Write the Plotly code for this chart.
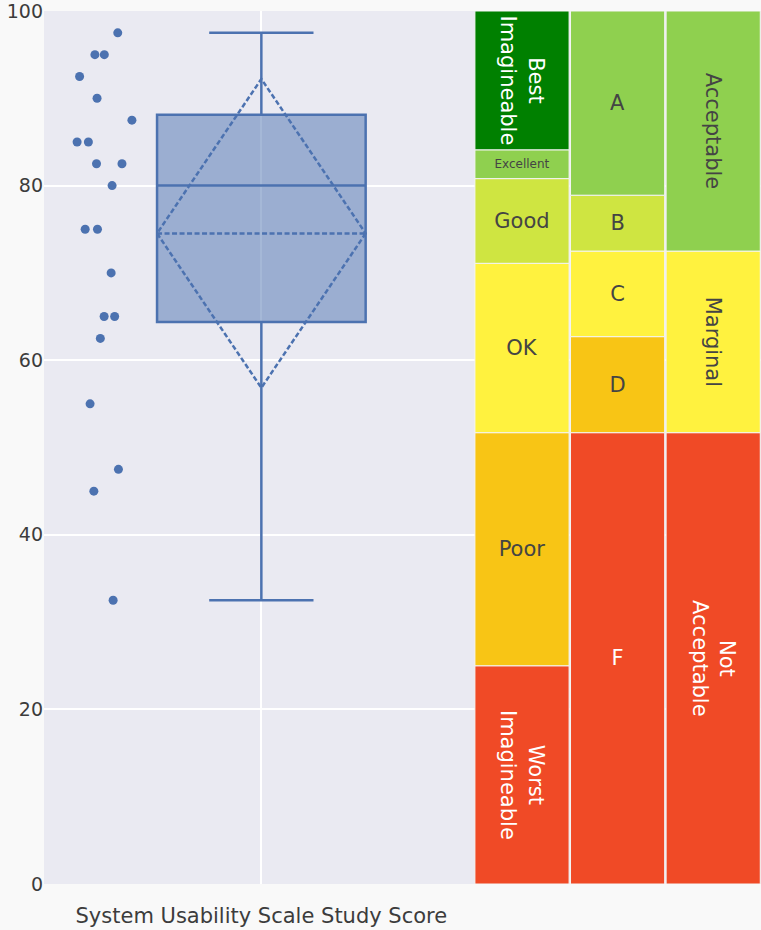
import plotly.graph_objects as go

# ---- data ----
category = "System Usability Scale Study Score"
scores = [97.5, 95, 95, 92.5, 90, 87.5, 85, 85, 82.5, 82.5, 80,
          75, 75, 70, 65, 65, 62.5, 55, 47.5, 45, 32.5]

band_columns = ["adjective", "grade", "acceptability"]
band_column = ["adjective", "adjective", "adjective", "adjective", "adjective", "adjective",
               "grade", "grade", "grade", "grade", "grade",
               "acceptability", "acceptability", "acceptability"]
band_labels = ["Worst<br>Imagineable", "Poor", "OK", "Good", "Excellent", "Best<br>Imagineable",
               "F", "D", "C", "B", "A",
               "Not<br>Acceptable", "Marginal", "Acceptable"]
band_low = [0, 25, 51.7, 71.1, 80.8, 84.1,
            0, 51.7, 62.7, 72.5, 78.9,
            0, 51.7, 72.5]
band_high = [25, 51.7, 71.1, 80.8, 84.1, 100,
             51.7, 62.7, 72.5, 78.9, 100,
             51.7, 72.5, 100]
y_ticks = [0, 20, 40, 60, 80, 100]

# ---- styles ----
RED = "#f04a26"
ORANGE = "#f8c515"
YELLOW = "#fff23f"
YGREEN = "#cfe541"
LGREEN = "#8fd04f"
DGREEN = "#008000"
band_colors = {
    "Worst<br>Imagineable": RED, "Poor": ORANGE, "OK": YELLOW, "Good": YGREEN,
    "Excellent": LGREEN, "Best<br>Imagineable": DGREEN,
    "F": RED, "D": ORANGE, "C": YELLOW, "B": YGREEN, "A": LGREEN,
    "Not<br>Acceptable": RED, "Marginal": YELLOW, "Acceptable": LGREEN,
}
rotated = {"Worst<br>Imagineable", "Best<br>Imagineable", "Not<br>Acceptable",
           "Marginal", "Acceptable"}
small = {"Excellent": 12}
dark = {RED, DGREEN}

FONT = "DejaVu Sans"
TXT = "#3c3c3c"

fig = go.Figure()

fig.add_trace(go.Box(
    x=[category] * len(scores), y=scores,
    boxpoints="all", boxmean="sd", jitter=0.3, pointpos=-1.5,
    marker=dict(color="rgb(76,114,176)", size=9),
    line=dict(color="rgb(76,114,176)", width=2.5),
    fillcolor="rgba(76,114,176,0.5)",
    showlegend=False, xaxis="x", yaxis="y",
))

for col, lab, lo, hi in zip(band_column, band_labels, band_low, band_high):
    c = band_colors[lab]
    fig.add_trace(go.Bar(
        x=[col], y=[hi - lo], base=[lo],
        text=[lab], textposition="inside", insidetextanchor="middle",
        textangle=90 if lab in rotated else 0,
        textfont=dict(family=FONT, size=small.get(lab, 21),
                      color="white" if c in dark else "#444"),
        marker=dict(color=c, line=dict(color="#f4f4f4", width=1)),
        showlegend=False, xaxis="x2", yaxis="y", hoverinfo="skip",
    ))

fig.update_layout(
    width=761, height=930,
    margin=dict(l=44, r=0, t=11, b=46, autoexpand=False),
    paper_bgcolor="#f9f9f9",
    plot_bgcolor="rgb(234,234,242)",
    font=dict(family=FONT, size=19, color=TXT),
    barmode="overlay", bargap=0.015,
    xaxis=dict(domain=[0, 0.6], type="category", showgrid=True,
               gridcolor="white", gridwidth=1.5, ticks="",
               tickfont=dict(size=21, family=FONT, color=TXT),
               ticklabelstandoff=17, zeroline=False, automargin=False),
    xaxis2=dict(domain=[0.6, 1], type="category",
                categoryorder="array", categoryarray=band_columns,
                showgrid=False, showticklabels=False, ticks="",
                anchor="y", range=[-0.5, 2.5], automargin=False),
    yaxis=dict(range=[0, 100], tickvals=y_ticks, showgrid=True,
               gridcolor="white", gridwidth=1.5, zeroline=False,
               ticks="", ticklabeloverflow="allow", automargin=False,
               tickfont=dict(size=19, family=FONT, color=TXT)),
)

fig.write_html("out.html")
